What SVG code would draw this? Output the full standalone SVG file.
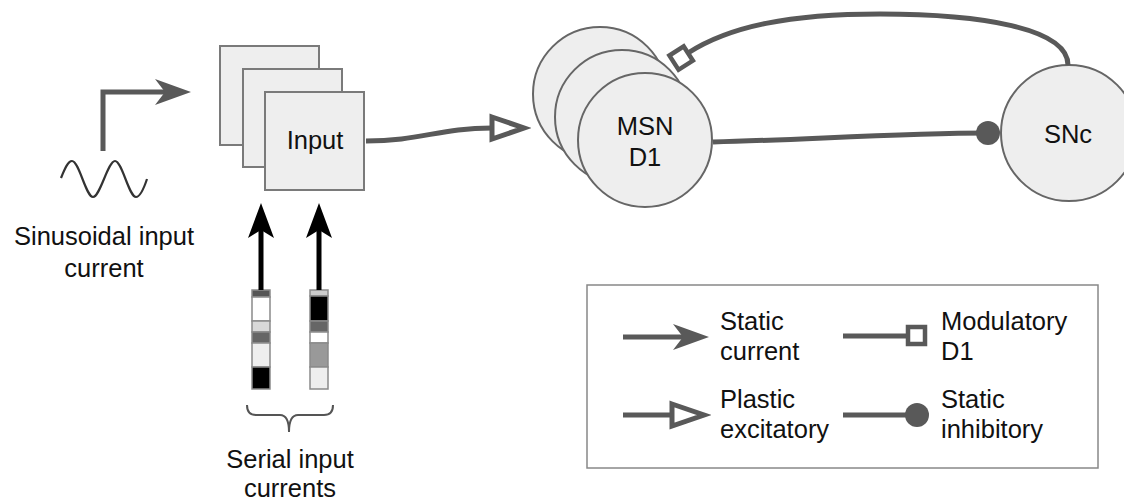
<svg xmlns="http://www.w3.org/2000/svg" width="1124" height="502" viewBox="0 0 1124 502">
<style>
  text { font-family: "Liberation Sans", Arial, sans-serif; font-size: 25.5px; fill: #111; }
  .box { fill: #eeeeee; stroke: #7a7a7a; stroke-width: 2; }
  .cell { fill: #eeeeee; stroke: #666; stroke-width: 2; }
  .conn { fill: none; stroke: #595959; stroke-width: 5; }
  .blk { fill: none; stroke: #000; stroke-width: 5; }
  .seg { stroke: #8a8a8a; stroke-width: 1.5; }
</style>
<defs>
  <marker id="mStatic" viewBox="0 0 36 26" refX="10" refY="13" markerWidth="36" markerHeight="26" markerUnits="userSpaceOnUse" orient="auto">
    <path d="M0,0 L36,13 L0,26 L10,13 Z" fill="#595959"/>
  </marker>
  <marker id="mBlack" viewBox="0 0 35 26" refX="8" refY="13" markerWidth="35" markerHeight="26" markerUnits="userSpaceOnUse" orient="auto">
    <path d="M0,0 L35,13 L0,26 L8,13 Z" fill="#000"/>
  </marker>
  <marker id="mPlastic" viewBox="0 0 42 30" refX="3" refY="15" markerWidth="42" markerHeight="30" markerUnits="userSpaceOnUse" orient="auto">
    <polygon points="3,4 35,15 3,26" fill="#fff" stroke="#595959" stroke-width="5"/>
  </marker>
  <marker id="mMod" viewBox="0 0 24 24" refX="3" refY="12" markerWidth="24" markerHeight="24" markerUnits="userSpaceOnUse" orient="auto">
    <rect x="3" y="3" width="17" height="17" fill="#fff" stroke="#595959" stroke-width="4.5"/>
  </marker>
  <marker id="mDot" viewBox="0 0 26 26" refX="13" refY="13" markerWidth="26" markerHeight="26" markerUnits="userSpaceOnUse" orient="auto">
    <circle cx="13" cy="13" r="12" fill="#595959"/>
  </marker>
</defs>

<g id="sinusoidal">
  <path d="M61,178 C65,168 68,161 72,161 C79,161 86,197 93,197 C100,197 108,161 115,161 C122,161 129,197 136,197 C140,197 144,188 147,179" fill="none" stroke="#333" stroke-width="2.2"/>
  <text x="104" y="245" text-anchor="middle">Sinusoidal input</text>
  <text x="104" y="277" text-anchor="middle">current</text>
</g>

<g id="input">
  <rect class="box" x="220" y="46" width="99" height="99"/>
  <rect class="box" x="243" y="69" width="99" height="98"/>
  <rect class="box" x="265" y="92" width="99" height="98"/>
  <text x="315" y="149" text-anchor="middle">Input</text>
</g>

<g id="serial-inputs">
  <g id="bar1">
    <rect class="seg" x="252" y="290" width="18" height="7" fill="#555"/>
    <rect class="seg" x="252" y="297" width="18" height="24" fill="#fff"/>
    <rect class="seg" x="252" y="321" width="18" height="11" fill="#d8d8d8"/>
    <rect class="seg" x="252" y="332" width="18" height="11" fill="#666"/>
    <rect class="seg" x="252" y="343" width="18" height="24" fill="#eeeeee"/>
    <rect class="seg" x="252" y="367" width="18" height="22" fill="#000"/>
  </g>
  <g id="bar2">
    <rect class="seg" x="310" y="290" width="18" height="6" fill="#cccccc"/>
    <rect class="seg" x="310" y="296" width="18" height="25" fill="#000"/>
    <rect class="seg" x="310" y="321" width="18" height="11" fill="#666"/>
    <rect class="seg" x="310" y="332" width="18" height="11" fill="#fff"/>
    <rect class="seg" x="310" y="343" width="18" height="24" fill="#999"/>
    <rect class="seg" x="310" y="367" width="18" height="22" fill="#eeeeee"/>
  </g>
  <path d="M247,405 C247,412 250,415 256,415 L280,415 C286,415 289,420 289,432 C289,420 292,415 298,415 L324,415 C330,415 333,412 333,405" fill="none" stroke="#555" stroke-width="2"/>
  <text x="290" y="468" text-anchor="middle">Serial input</text>
  <text x="290" y="497" text-anchor="middle">currents</text>
</g>

<g id="msn-d1">
  <circle class="cell" cx="600" cy="94" r="67"/>
  <circle class="cell" cx="622" cy="117" r="67"/>
  <circle class="cell" cx="645" cy="140" r="67"/>
  <text x="645" y="135" text-anchor="middle">MSN</text>
  <text x="645" y="166" text-anchor="middle">D1</text>
</g>

<g id="snc">
  <circle class="cell" cx="1069" cy="133" r="68"/>
  <text x="1068" y="143" text-anchor="middle">SNc</text>
</g>

<g id="connectors">
  <path class="conn" d="M103,151 L103,92 L165,92" stroke-linejoin="miter" marker-end="url(#mStatic)"/>
  <path class="blk" d="M261,290 L261,230" marker-end="url(#mBlack)"/>
  <path class="blk" d="M319,290 L319,230" marker-end="url(#mBlack)"/>
  <path class="conn" d="M366,141 C420,141 440,128 492,128" marker-end="url(#mPlastic)"/>
  <path class="conn" d="M713,142 C800,140 900,133 988,133" marker-end="url(#mDot)"/>
  <path class="conn" d="M1068,65 C1068,28 980,14 880,14 C790,14 730,26 688,53" marker-end="url(#mMod)"/>
</g>

<g id="legend">
  <rect x="587" y="285" width="511" height="183" fill="#fff" stroke="#888" stroke-width="1.5"/>
  <path class="conn" d="M623,337 L683,337" marker-end="url(#mStatic)"/>
  <text x="720" y="330">Static</text>
  <text x="720" y="360">current</text>
  <path class="conn" d="M843,336 L908,336" marker-end="url(#mMod)"/>
  <text x="941" y="330">Modulatory</text>
  <text x="941" y="360">D1</text>
  <path class="conn" d="M623,415 L672,415" marker-end="url(#mPlastic)"/>
  <text x="720" y="408">Plastic</text>
  <text x="720" y="438">excitatory</text>
  <path class="conn" d="M843,415 L917,415" marker-end="url(#mDot)"/>
  <text x="941" y="408">Static</text>
  <text x="941" y="438">inhibitory</text>
</g>
</svg>
